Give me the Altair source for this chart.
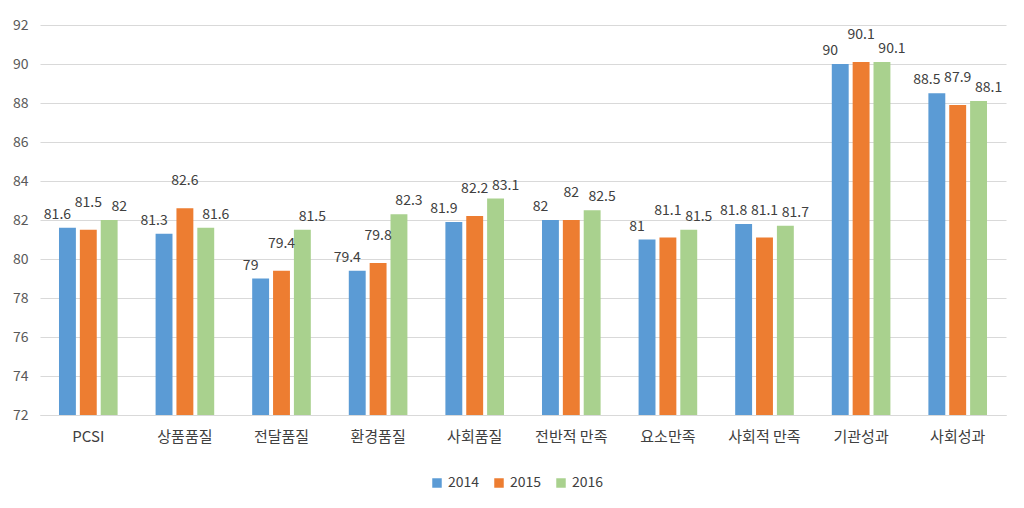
import altair as alt
import pandas as pd

categories = ["PCSI", "상품품질", "전달품질", "환경품질", "사회품질",
              "전반적 만족", "요소만족", "사회적 만족", "기관성과", "사회성과"]
years = ["2014", "2015", "2016"]
v2014 = [81.6, 81.3, 79.0, 79.4, 81.9, 82.0, 81.0, 81.8, 90.0, 88.5]
v2015 = [81.5, 82.6, 79.4, 79.8, 82.2, 82.0, 81.1, 81.1, 90.1, 87.9]
v2016 = [82.0, 81.6, 81.5, 82.3, 83.1, 82.5, 81.5, 81.7, 90.1, 88.1]
y_ticks = list(range(72, 93, 2))
colors = ["#5B9BD5", "#ED7D31", "#A9D18E"]

rows = []
for yr, vals in zip(years, [v2014, v2015, v2016]):
    for c, v in zip(categories, vals):
        rows.append({"category": c, "year": yr, "value": v,
                     "label": f"{v:g}"})
df = pd.DataFrame(rows)

FONT = "Noto Sans CJK KR"

x_enc = alt.X("category:N", sort=categories,
              scale=alt.Scale(paddingInner=0.35, paddingOuter=0.175),
              axis=alt.Axis(title=None, labelAngle=0, labelFontSize=15,
                            labelColor="#404040", labelPadding=14, ticks=False,
                            domainColor="#d9d9d9", labelFont=FONT))
xo_enc = alt.XOffset("year:N", sort=years,
                     scale=alt.Scale(domain=years, paddingInner=0.19,
                                     paddingOuter=0.1))
y_axis = alt.Axis(title=None, values=y_ticks, labelFontSize=14,
                  labelColor="#595959", domain=False, ticks=False,
                  gridColor="#d9d9d9", labelPadding=12, labelFont=FONT,
                  labelOverlap=False)
y_scale = alt.Scale(domain=[72, 92], zero=False, nice=False)

base = alt.Chart(df).encode(x=x_enc, xOffset=xo_enc)

bars = base.mark_bar().encode(
    y=alt.Y("value:Q", scale=y_scale, axis=y_axis),
    y2=alt.datum(72),
    color=alt.Color("year:N", sort=years,
                    scale=alt.Scale(domain=years, range=colors),
                    legend=alt.Legend(title=None, orient="none",
                                      direction="horizontal",
                                      legendX=390, legendY=451,
                                      symbolType="square", symbolSize=90,
                                      labelFontSize=14, labelColor="#404040",
                                      columnPadding=12, labelFont=FONT,
                                      symbolStrokeWidth=0)),
)

label_style = {"2014": dict(dx=-10, dy=-6),
               "2015": dict(dx=0, dy=-20),
               "2016": dict(dx=10, dy=-6)}
label_layers = []
for yr in years:
    st = label_style[yr]
    label_layers.append(
        base.mark_text(baseline="bottom", fontSize=14, color="#404040",
                       font=FONT, dx=st["dx"], dy=st["dy"]).encode(
            y=alt.Y("value:Q", scale=y_scale, axis=y_axis),
            text="label:N",
        ).transform_filter(alt.datum.year == yr)
    )

chart = alt.layer(bars, *label_layers).properties(
    width=966, height=390,
    autosize=alt.AutoSizeParams(type="none"),
    padding={"left": 32, "top": 17, "right": 10, "bottom": 85},
).configure(background="white").configure_view(stroke=None)

chart.save("out.html", embed_options={"renderer": "svg", "actions": False})
